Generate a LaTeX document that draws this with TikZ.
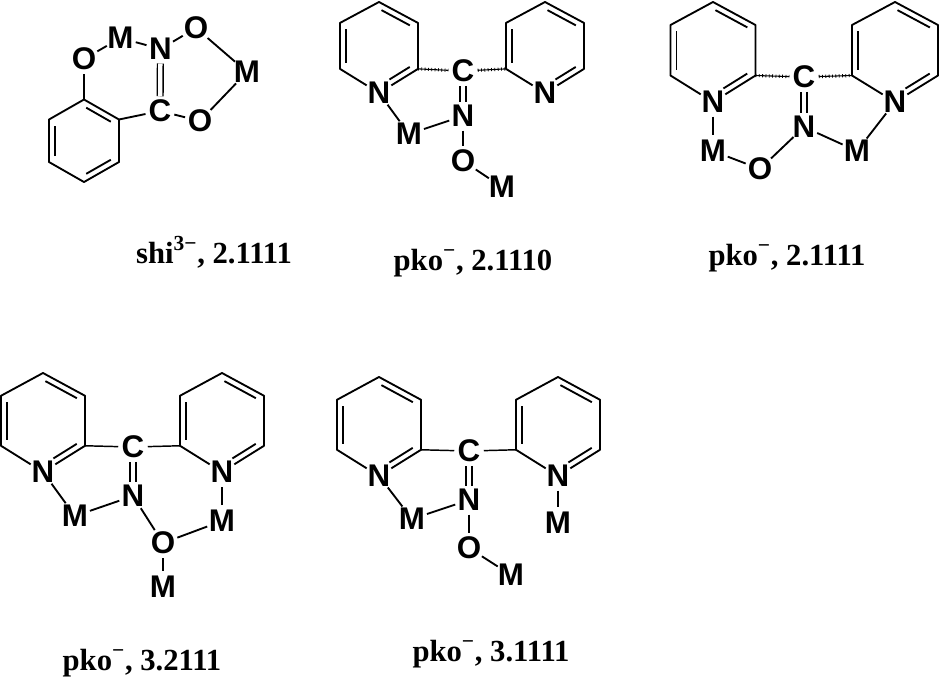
\documentclass[tikz,border=0pt]{standalone}
\usepackage{fontspec}
\setmainfont{Liberation Serif}
\setsansfont{Liberation Sans}
\usetikzlibrary{calc}

% inner line of a double bond, on the ring side of a -> b
\newcommand{\innerbond}[3][4.5pt]{%
	\draw [bond, shorten <=4.5pt, shorten >=#1] ($(#2)!4.5pt!-90:(#3)$) -- ($(#3)!4.5pt!90:(#2)$);
}
% pyridine ring hanging from its top corner, N at the bottom corner
\newcommand{\pyring}[5]{%
	\coordinate (#1a) at (#2,#3);
	\coordinate (#1b) at ({#2+#4},{#3+0.23*#5});
	\coordinate (#1c) at ({#2+#4},{#3+0.735*#5});
	\coordinate (#1d) at (#2,{#3+#5});
	\coordinate (#1e) at ({#2-#4},{#3+0.735*#5});
	\coordinate (#1f) at ({#2-#4},{#3+0.23*#5});
	\node [atom] (#1N) at (#1d) {N};
	\draw [bond] (#1N) -- (#1e) -- (#1f) -- (#1a) -- (#1b) -- (#1c) -- (#1N);
	\innerbond{#1a}{#1b}
	\innerbond[12pt]{#1c}{#1d}
	\innerbond{#1e}{#1f}
}

\begin{document}
\begin{tikzpicture}[
		x=0.75pt,
		y=-0.75pt,
		atom/.style={
			circle,
			inner sep=0pt,
			outer sep=-0.8pt,
			font=\bfseries\sffamily\fontsize{23.5}{23.5}\selectfont
		},
		bond/.style={
			line width=1.4pt,
			line join=round
		},
		dblbond/.style={
			double,
			double distance=3.2pt,
			line width=1.1pt
		},
		thinbond/.style={
			line width=1.1pt
		},
		hatchbond/.style={
			line width=0.8pt,
			postaction={draw, line width=2.4pt, dash pattern=on 0.6pt off 1.9pt}
		},
		caption/.style={
			anchor=base,
			inner sep=0pt,
			font=\bfseries\fontsize{23}{23}\selectfont
		}
		]
		\useasboundingbox (0,0) rectangle (939,676);
		
		% shi, 2.1111
		\coordinate (ba) at (84,99.5);
		\coordinate (bb) at (119,119.5);
		\coordinate (bc) at (119,162);
		\coordinate (bd) at (84,182);
		\coordinate (be) at (49,162);
		\coordinate (bf) at (49,119.5);
		\draw [bond] (ba) -- (bb) -- (bc) -- (bd) -- (be) -- (bf) -- cycle;
		\innerbond{ba}{bb}
		\innerbond{bc}{bd}
		\innerbond{be}{bf}
		
		\node [atom] (shiOa) at (84,59) {O};
		\node [atom] (shiMa) at (120.5,38) {M};
		\node [atom] (shiN) at (160.5,49) {N};
		\node [atom] (shiOb) at (196,28) {O};
		\node [atom] (shiMb) at (247,72) {M};
		\node [atom] (shiOc) at (200,121) {O};
		\node [atom] (shiC) at (160,111) {C};
		
		\draw [bond] (ba) -- (shiOa);
		\draw [bond] (shiOa) -- (shiMa);
		\draw [bond] (shiMa) -- (shiN);
		\draw [bond] (shiN) -- (shiOb);
		\draw [bond] (shiOb) -- (shiMb);
		\draw [bond] (shiMb) -- (shiOc);
		\draw [bond] (shiOc) -- (shiC);
		\draw [bond] (shiC) -- (bb);
		\draw [dblbond] (shiN) -- (shiC);
		
		\node [caption] (shilabel) at (214,263) {shi\textsuperscript{3−}, 2.1111};
		
		% pko, 2.1110
		\pyring{p}{379}{2}{39}{91}
		\pyring{q}{545}{2}{39}{91}
		\node [atom] (twoC) at (463,71) {C};
		\node [atom] (twoN) at (463,116) {N};
		\node [atom] (twoMa) at (409,134) {M};
		\node [atom] (twoO) at (463,161) {O};
		\node [atom] (twoMb) at (502,187) {M};
		
		\draw [hatchbond] (pc) -- (twoC);
		\draw [hatchbond] (twoC) -- (qe);
		\draw [dblbond] (twoC) -- (twoN);
		\draw [bond] (pN) -- (twoMa);
		\draw [bond] (twoMa) -- (twoN);
		\draw [bond] (twoN) -- (twoO);
		\draw [bond] (twoO) -- (twoMb);
		
		\node [caption] (twolabel) at (473,270) {pko\textsuperscript{−}, 2.1110};
		
		% pko, 2.1111
		\pyring{r}{713}{2}{42.5}{100}
		\pyring{s}{895}{2}{43}{100}
		\node [atom] (triC) at (804,77) {C};
		\node [atom] (triN) at (804,127) {N};
		\node [atom] (triMa) at (713,151) {M};
		\node [atom] (triO) at (760,169) {O};
		\node [atom] (triMb) at (857,151) {M};
		
		\draw [hatchbond] (rc) -- (triC);
		\draw [hatchbond] (triC) -- (se);
		\draw [dblbond] (triC) -- (triN);
		\draw [bond] (rN) -- (triMa);
		\draw [bond] (triMa) -- (triO);
		\draw [bond] (triO) -- (triN);
		\draw [bond] (triN) -- (triMb);
		\draw [bond] (triMb) -- (sN);
		
		\node [caption] (trilabel) at (787,265) {pko\textsuperscript{−}, 2.1111};
		
		% pko, 3.2111
		\pyring{t}{43}{373}{42}{99}
		\pyring{u}{222}{373}{42}{99}
		\node [atom] (fourC) at (133,447) {C};
		\node [atom] (fourN) at (133,496) {N};
		\node [atom] (fourMa) at (75,516) {M};
		\node [atom] (fourO) at (163,543) {O};
		\node [atom] (fourMb) at (222,521) {M};
		\node [atom] (fourMc) at (163,587) {M};
		
		\draw [thinbond] (tc) -- (fourC);
		\draw [thinbond] (fourC) -- (ue);
		\draw [dblbond] (fourC) -- (fourN);
		\draw [bond] (tN) -- (fourMa);
		\draw [bond] (fourMa) -- (fourN);
		\draw [bond] (fourN) -- (fourO);
		\draw [bond] (fourO) -- (fourMb);
		\draw [bond] (fourMb) -- (uN);
		\draw [bond] (fourO) -- (fourMc);
		
		\node [caption] (fourlabel) at (142,670) {pko\textsuperscript{−}, 3.2111};
		
		% pko, 3.1111
		\pyring{v}{379}{377}{42}{99}
		\pyring{w}{558}{377}{42}{99}
		\node [atom] (fivC) at (469,451) {C};
		\node [atom] (fivN) at (469,500) {N};
		\node [atom] (fivMa) at (412,519) {M};
		\node [atom] (fivO) at (469,548) {O};
		\node [atom] (fivMb) at (511,575) {M};
		\node [atom] (fivMc) at (558,523) {M};
		
		\draw [thinbond] (vc) -- (fivC);
		\draw [thinbond] (fivC) -- (we);
		\draw [dblbond] (fivC) -- (fivN);
		\draw [bond] (vN) -- (fivMa);
		\draw [bond] (fivMa) -- (fivN);
		\draw [bond] (fivN) -- (fivO);
		\draw [bond] (fivO) -- (fivMb);
		\draw [bond] (wN) -- (fivMc);
		
		\node [caption] (fivlabel) at (491,661) {pko\textsuperscript{−}, 3.1111};
		
		\end{tikzpicture}
\end{document}
